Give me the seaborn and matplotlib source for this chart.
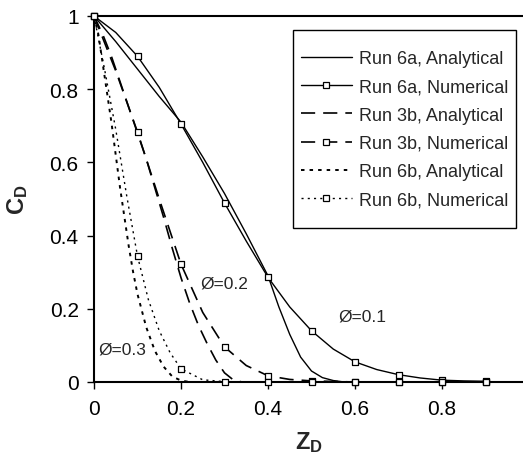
import numpy as np
import matplotlib
matplotlib.use("Agg")
import matplotlib.pyplot as plt
from matplotlib.lines import Line2D
import seaborn as sns

# Run 6a (phi = 0.1)
x_6a_ana = [0, 0.05, 0.1, 0.15, 0.2, 0.25, 0.3, 0.35, 0.4, 0.425, 0.45, 0.475, 0.5,
            0.525, 0.55, 0.6, 0.65, 0.7, 0.75, 0.8, 0.9, 1.0]
c_6a_ana = [1, 0.93, 0.855, 0.78, 0.71, 0.615, 0.515, 0.405, 0.29, 0.205, 0.13, 0.068, 0.03,
            0.012, 0.004, -0.004, -0.007, -0.004, 0.0, 0.0, 0.0, 0.0]
x_6a_line = [0, 0.05, 0.1, 0.15, 0.2, 0.25, 0.3, 0.35, 0.4, 0.45, 0.5, 0.55, 0.6,
             0.65, 0.7, 0.75, 0.8, 0.85, 0.9]
c_6a_line = [1, 0.955, 0.89, 0.805, 0.705, 0.6, 0.489, 0.385, 0.286, 0.205, 0.14, 0.09,
             0.055, 0.034, 0.02, 0.011, 0.005, 0.003, 0.002]

# Run 3b (phi = 0.2)
x_3b_ana = [0, 0.02, 0.04, 0.06, 0.08, 0.1, 0.12, 0.14, 0.16, 0.18, 0.2, 0.22, 0.24,
            0.26, 0.28, 0.3, 0.32, 0.34, 0.4, 0.6, 0.8, 1.0]
c_3b_ana = [1, 0.95, 0.89, 0.82, 0.75, 0.68, 0.61, 0.53, 0.45, 0.365, 0.285, 0.215, 0.155,
            0.105, 0.06, 0.025, 0.006, 0.0, 0.0, 0.0, 0.0, 0.0]
x_3b_line = [0, 0.05, 0.1, 0.15, 0.2, 0.25, 0.3, 0.35, 0.4, 0.45, 0.5, 0.6, 0.9]
c_3b_line = [1, 0.85, 0.683, 0.5, 0.322, 0.19, 0.096, 0.045, 0.017, 0.007, 0.003, 0.0, 0.0]

# Run 6b (phi = 0.3)
x_6b_ana = [0, 0.01, 0.02, 0.03, 0.04, 0.05, 0.06, 0.07, 0.08, 0.09, 0.1, 0.12, 0.14,
            0.16, 0.18, 0.2, 0.22, 0.3, 0.5, 0.8, 1.0]
c_6b_ana = [1, 0.95, 0.87, 0.79, 0.71, 0.62, 0.53, 0.45, 0.37, 0.3, 0.24, 0.15, 0.085,
            0.042, 0.015, 0.004, 0.0, 0.0, 0.0, 0.0, 0.0]
x_6b_line = [0, 0.025, 0.05, 0.075, 0.1, 0.125, 0.15, 0.175, 0.2, 0.25, 0.3, 0.4, 0.9]
c_6b_line = [1, 0.85, 0.69, 0.51, 0.344, 0.225, 0.14, 0.08, 0.036, 0.006, 0.001, 0.0, 0.0]

# numerical grid points (markers)
x_num = [0, 0.1, 0.2, 0.3, 0.4, 0.5, 0.6, 0.7, 0.8, 0.9]
c_6a_num = [1, 0.89, 0.705, 0.489, 0.286, 0.14, 0.055, 0.02, 0.005, 0.002]
c_3b_num = [1, 0.683, 0.322, 0.096, 0.017, 0.003, 0.0, 0.0, 0.0, 0.0]
c_6b_num = [1, 0.344, 0.036, 0.001, 0.0, 0.0, 0.0, 0.0, 0.0, 0.0]

labels = ["Run 6a, Analytical", "Run 6a, Numerical",
          "Run 3b, Analytical", "Run 3b, Numerical",
          "Run 6b, Analytical", "Run 6b, Numerical"]

sns.set_style("white")
plt.rcParams['font.family'] = ['Liberation Sans', 'DejaVu Sans']
plt.rcParams['mathtext.fontset'] = 'custom'
plt.rcParams['mathtext.rm'] = 'Liberation Sans'
plt.rcParams['mathtext.bf'] = 'Liberation Sans:bold'

fig = plt.figure(figsize=(5.23, 4.6), dpi=100)
ax = fig.add_axes([94 / 523, 77 / 460, 429 / 523, 366 / 460])

solid = '-'
dash = (0, (8.5, 4.8))
dot_a = (0, (1.8, 2.6))
dot_n = (0, (1.5, 3.0))

styles = [(solid, 1.0), (solid, 1.0), (dash, 1.2), (dash, 1.2), (dot_a, 1.4), (dot_n, 1.0)]
series = [(x_6a_ana, c_6a_ana), (x_6a_line, c_6a_line),
          (x_3b_ana, c_3b_ana), (x_3b_line, c_3b_line),
          (x_6b_ana, c_6b_ana), (x_6b_line, c_6b_line)]

for (xs, ys), (ls, lw) in zip(series, styles):
    sns.lineplot(x=xs, y=ys, ax=ax, color='black', lw=lw, linestyle=ls, sort=False)

for ys in [c_6a_num, c_3b_num, c_6b_num]:
    sns.scatterplot(x=x_num, y=ys, ax=ax, marker='s', s=19, facecolor='white',
                    edgecolor='black', linewidth=0.9, zorder=3, clip_on=False)

ax.set_xlim(0, 429 / 435)
ax.set_ylim(0, 1)
ax.set_xticks([0, 0.2, 0.4, 0.6, 0.8])
ax.set_yticks([0, 0.2, 0.4, 0.6, 0.8, 1.0])
ax.xaxis.set_major_formatter(matplotlib.ticker.FormatStrFormatter('%g'))
ax.yaxis.set_major_formatter(matplotlib.ticker.FormatStrFormatter('%g'))
ax.tick_params(axis='both', direction='out', length=5, width=1, color='black',
               labelsize=15, labelcolor='black')
ax.tick_params(axis='y', pad=6)
ax.tick_params(axis='x', pad=7)
ax.xaxis.set_ticks_position('bottom')
ax.yaxis.set_ticks_position('left')

for side in ['left', 'bottom', 'top']:
    ax.spines[side].set_color('black')
    ax.spines[side].set_linewidth(1.5)
ax.spines['right'].set_visible(False)

ax.set_xlabel(r'$\mathbf{Z_D}$', fontsize=17, labelpad=8)
ax.set_ylabel(r'$\mathbf{C_D}$', fontsize=17, labelpad=14)

ax.text(0.561, 0.18, 'Ø=0.1', fontsize=12.5, va='center', ha='left')
ax.text(0.244, 0.27, 'Ø=0.2', fontsize=12.5, va='center', ha='left')
ax.text(0.009, 0.09, 'Ø=0.3', fontsize=12.5, va='center', ha='left')

handles = []
for i, (ls, lw) in enumerate(styles):
    if i % 2 == 1:
        h = Line2D([], [], color='black', lw=lw, linestyle=ls, marker='s', markersize=4.3,
                   markerfacecolor='white', markeredgecolor='black', markeredgewidth=0.9)
    else:
        h = Line2D([], [], color='black', lw=lw, linestyle=ls)
    handles.append(h)

# legend box: taller than the entries need, as in the original
leg = ax.legend(handles, labels, loc='upper right',
                bbox_to_anchor=(515 / 523, 1 - 45 / 460),
                bbox_transform=fig.transFigure, borderaxespad=0, fontsize=13,
                frameon=True, fancybox=False, edgecolor='black', framealpha=1,
                handlelength=2.85, handletextpad=0.4, labelspacing=0.62,
                borderpad=0.35, numpoints=1)
frame = leg.get_frame()
frame.set_linewidth(1.0)
frame.set_boxstyle('square', pad=0.05)
frame.set_mutation_aspect(15)

fig.savefig("out.png", dpi=100)
